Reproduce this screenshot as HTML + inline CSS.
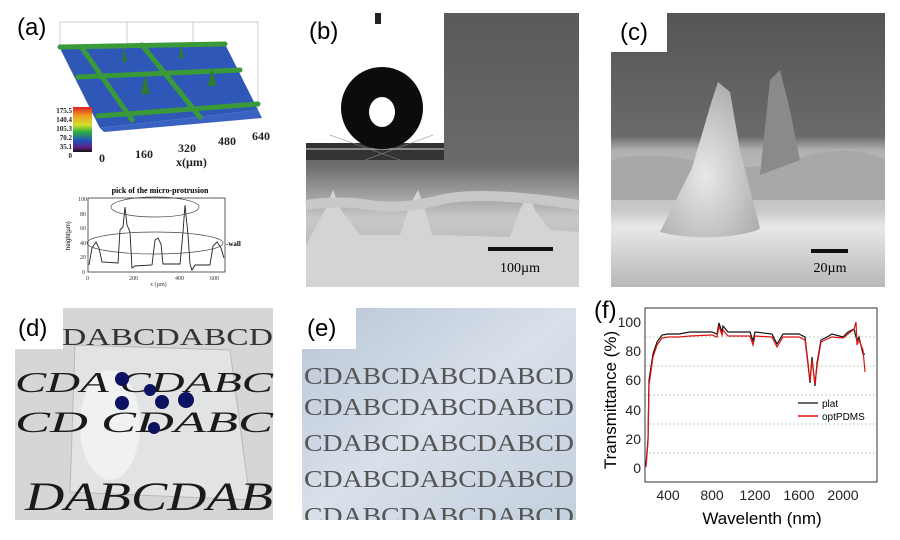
<!DOCTYPE html>
<html><head><meta charset="utf-8"><style>
body{margin:0;background:#fff}
svg{display:block}
text{font-family:"Liberation Sans",sans-serif}
.s{font-family:"Liberation Serif",serif}
</style></head><body>
<svg width="900" height="540" viewBox="0 0 900 540" xmlns="http://www.w3.org/2000/svg">
<defs>
<linearGradient id="cb" x1="0" y1="0" x2="0" y2="1">
<stop offset="0" stop-color="#e02020"/><stop offset="0.2" stop-color="#f0a020"/><stop offset="0.4" stop-color="#d0e030"/><stop offset="0.55" stop-color="#30b040"/><stop offset="0.75" stop-color="#2050c0"/><stop offset="0.9" stop-color="#602080"/><stop offset="1" stop-color="#101010"/></linearGradient>
<linearGradient id="bg" x1="0" y1="0" x2="0" y2="1"><stop offset="0" stop-color="#5a5a5a"/><stop offset="0.55" stop-color="#6a6a6a"/><stop offset="0.75" stop-color="#c8c8c8"/><stop offset="1" stop-color="#a8a8a8"/></linearGradient>
<linearGradient id="cg" x1="0" y1="0" x2="0" y2="1"><stop offset="0" stop-color="#555"/><stop offset="0.45" stop-color="#6a6a6a"/><stop offset="0.5" stop-color="#b0b0b0"/><stop offset="0.72" stop-color="#c8c8c8"/><stop offset="0.78" stop-color="#e8e8e8"/><stop offset="1" stop-color="#b8b8b8"/></linearGradient>
<radialGradient id="cone" cx="0.45" cy="0.6" r="0.6"><stop offset="0" stop-color="#e8e8e8"/><stop offset="1" stop-color="#b0b0b0"/></radialGradient>
<linearGradient id="eg" x1="0" y1="0" x2="1" y2="1"><stop offset="0" stop-color="#b8c6d6"/><stop offset="0.5" stop-color="#d8e0ea"/><stop offset="1" stop-color="#c4d0de"/></linearGradient>
</defs>

<!-- (a) -->
<text x="17" y="35" font-size="24">(a)</text>
<g stroke="#bbb" stroke-width="0.7" fill="none">
<polyline points="60,48 60,22 258,22 258,110"/><line x1="127" y1="22" x2="127" y2="46"/><line x1="193" y1="22" x2="193" y2="46"/>
<line x1="60" y1="48" x2="100" y2="128"/>
</g>
<polygon points="60,48 225,44 258,110 100,128" fill="#2f57b8"/>
<polygon points="100,128 258,110 262,118 104,132" fill="#3a62c0"/>
<g stroke="#3a9a3a" stroke-width="5" stroke-linecap="round">
<line x1="60" y1="47" x2="225" y2="44"/>
<line x1="78" y1="77" x2="240" y2="70"/>
<line x1="98" y1="116" x2="258" y2="104"/>
<line x1="82" y1="48" x2="132" y2="120"/>
<line x1="142" y1="45" x2="200" y2="117"/>
</g>
<g fill="#2e7a2e"><polygon points="124,48 122,62 127,62"/><polygon points="181,45 179,58 184,58"/><polygon points="145,75 141,94 150,94"/><polygon points="212,68 208,86 216,86"/></g>
<rect x="73" y="107" width="19" height="45" fill="url(#cb)"/>
<g class="s" font-size="7" font-weight="bold" text-anchor="end" fill="#222">
<text x="72" y="113" class="s">175.5</text><text x="72" y="122" class="s">140.4</text><text x="72" y="131" class="s">105.3</text><text x="72" y="140" class="s">70.2</text><text x="72" y="149" class="s">35.1</text><text x="72" y="158" class="s">0</text></g>
<g font-size="12" font-weight="bold" fill="#222">
<text x="99" y="162" class="s">0</text><text x="135" y="158" class="s">160</text><text x="178" y="152" class="s">320</text><text x="218" y="145" class="s">480</text><text x="252" y="140" class="s">640</text><text x="176" y="166" class="s">x(µm)</text></g>
<text x="160" y="193" font-size="8" font-weight="bold" text-anchor="middle" class="s">pick of the micro-protrusion</text>
<rect x="88" y="198" width="137" height="74" fill="none" stroke="#333" stroke-width="0.8"/>
<g font-size="6" fill="#333" class="s"><text x="78" y="201" class="s">100</text><text x="80" y="216" class="s">80</text><text x="80" y="230" class="s">60</text><text x="80" y="245" class="s">40</text><text x="80" y="259" class="s">20</text><text x="82" y="274" class="s">0</text>
<text x="86" y="280" class="s">0</text><text x="129" y="280" class="s">200</text><text x="175" y="280" class="s">400</text><text x="210" y="280" class="s">600</text><text x="150" y="286" class="s">x (µm)</text></g>
<text x="70" y="250" font-size="6" transform="rotate(-90 70 250)">height(µm)</text>
<polyline fill="none" stroke="#222" stroke-width="0.9" points="89,265 92,248 96,242 99,248 102,262 118,263 120,230 123,227 125,207 127,225 130,232 132,268 135,266 152,265 155,240 158,238 161,244 163,264 180,264 183,232 185,205 188,235 190,264 192,270 195,265 210,265 213,246 217,242 221,248 224,258"/>
<ellipse cx="155" cy="207" rx="44" ry="10" fill="none" stroke="#444" stroke-width="0.7"/>
<ellipse cx="155" cy="243" rx="68" ry="11" fill="none" stroke="#444" stroke-width="0.7"/>
<text x="226" y="246" font-size="7" font-weight="bold" class="s">-wall</text>

<!-- (b) -->
<rect x="306" y="13" width="273" height="274" fill="url(#bg)"/>
<rect x="306" y="13" width="138" height="130" fill="#fff"/>
<rect x="306" y="143" width="138" height="17" fill="#333"/>
<rect x="306" y="148" width="138" height="2" fill="#888"/>
<rect x="375" y="13" width="6" height="11" fill="#222"/>
<circle cx="382" cy="108" r="41" fill="#0c0c0c"/>
<ellipse cx="382" cy="112" rx="13" ry="15" fill="#fff"/>
<g stroke="#888" stroke-width="0.6"><line x1="330" y1="135" x2="400" y2="160"/><line x1="433" y1="135" x2="365" y2="160"/></g>
<path d="M306,245 L325,210 L333,190 L341,210 L360,235 L400,235 L410,205 L418,190 L425,210 L432,235 L510,237 L520,210 L528,194 L536,212 L550,230 L579,232 L579,287 L306,287Z" fill="#d4d4d4"/>
<path d="M306,205 Q340,200 370,205 T440,200 T579,205" stroke="#c8c8c8" stroke-width="10" fill="none"/>
<rect x="488" y="247" width="65" height="4" fill="#111"/>
<text x="520" y="272" font-size="14" text-anchor="middle" class="s">100µm</text>
<text x="309" y="39" font-size="24">(b)</text>

<!-- (c) -->
<rect x="611" y="13" width="274" height="274" fill="url(#cg)"/>
<rect x="611" y="13" width="56" height="39" fill="#fff"/>
<text x="620" y="40" font-size="24">(c)</text>
<path d="M611,160 Q650,150 700,162 T800,158 T885,160 L885,200 L611,200Z" fill="#a8a8a8"/>
<path d="M760,175 L770,80 L780,70 L790,110 L800,160Z" fill="#8a8a8a"/>
<path d="M660,232 Q690,240 730,236 Q758,232 760,228 L740,150 L730,92 L718,82 L712,100 L692,168 Z" fill="url(#cone)"/>
<rect x="811" y="249" width="37" height="4" fill="#111"/>
<text x="830" y="272" font-size="14" text-anchor="middle" class="s">20µm</text>

<!-- (d) -->
<rect x="15" y="308" width="258" height="212" fill="#d6d6d4"/>
<polygon points="75,345 230,350 250,500 70,492" fill="#e2e4e4" stroke="#b8b8b8" stroke-width="1"/>
<ellipse cx="110" cy="425" rx="30" ry="55" fill="#f4f4f4" opacity="0.8"/>
<g class="s" fill="#1a1a1a">
<text x="62" y="345" font-size="24" class="s" textLength="211" lengthAdjust="spacingAndGlyphs" fill="#333">DABCDABCD</text>
<text x="15" y="392" font-size="28" font-style="italic" class="s" textLength="258" lengthAdjust="spacingAndGlyphs">CDA   CDABC</text>
<text x="15" y="432" font-size="30" font-style="italic" class="s" textLength="258" lengthAdjust="spacingAndGlyphs">CD    CDABC</text>
<text x="25" y="510" font-size="40" font-style="italic" class="s" textLength="248" lengthAdjust="spacingAndGlyphs">DABCDAB</text>
</g>
<g fill="#0c1260"><circle cx="122" cy="379" r="7"/><circle cx="150" cy="390" r="6"/><circle cx="122" cy="403" r="7"/><circle cx="162" cy="402" r="7"/><circle cx="186" cy="400" r="8"/><circle cx="154" cy="428" r="6"/></g>
<rect x="15" y="308" width="48" height="41" fill="#fff"/>
<text x="18" y="336" font-size="24">(d)</text>

<!-- (e) -->
<rect x="302" y="308" width="274" height="212" fill="url(#eg)"/>
<g class="s" font-size="24" fill="#555">
<text x="304" y="384" class="s" textLength="270" lengthAdjust="spacingAndGlyphs">CDABCDABCDABCD</text>
<text x="304" y="415" class="s" textLength="270" lengthAdjust="spacingAndGlyphs">CDABCDABCDABCD</text>
<text x="304" y="451" class="s" textLength="270" lengthAdjust="spacingAndGlyphs">CDABCDABCDABCD</text>
<text x="304" y="487" class="s" textLength="270" lengthAdjust="spacingAndGlyphs">CDABCDABCDABCD</text>
<text x="304" y="524" class="s" textLength="270" lengthAdjust="spacingAndGlyphs">CDABCDABCDABCD</text>
</g>
<rect x="302" y="520" width="274" height="20" fill="#fff"/>
<rect x="302" y="308" width="54" height="41" fill="#fff"/>
<text x="307" y="336" font-size="24">(e)</text>

<!-- (f) -->
<text x="594" y="318" font-size="24">(f)</text>
<g stroke="#9c9" stroke-width="0.8" stroke-dasharray="2,2"><line x1="645" y1="453" x2="877" y2="453"/><line x1="645" y1="424" x2="877" y2="424"/><line x1="645" y1="395" x2="877" y2="395"/><line x1="645" y1="366" x2="877" y2="366"/><line x1="645" y1="337" x2="877" y2="337"/></g>
<rect x="645" y="308" width="232" height="174" fill="none" stroke="#333" stroke-width="1"/>
<g font-size="14" text-anchor="end" fill="#222"><text x="641" y="473">0</text><text x="641" y="444">20</text><text x="641" y="415">40</text><text x="641" y="385">60</text><text x="641" y="356">80</text><text x="641" y="327">100</text></g>
<g font-size="14" text-anchor="middle" fill="#222"><text x="668" y="500">400</text><text x="712" y="500">800</text><text x="755" y="500">1200</text><text x="799" y="500">1600</text><text x="843" y="500">2000</text></g>
<text x="762" y="524" font-size="17" text-anchor="middle">Wavelenth (nm)</text>
<text x="616" y="400" font-size="17" text-anchor="middle" transform="rotate(-90 616 400)">Transmittance (%)</text>
<polyline fill="none" stroke="#111" stroke-width="1.2" points="646,465 648,439 649,380 653,354 657,342 662,335 668,334 679,334 690,332 712,332 717,334 719,323 722,332 723,326 728,332 750,332 753,341 755,332 772,334 777,344 783,334 799,334 805,337 808,363 810,383 812,357 815,386 817,363 821,340 827,337 832,334 843,337 848,332 854,329 857,341 859,337 863,354 865,354"/>
<polyline fill="none" stroke="#e01010" stroke-width="1.2" points="646,467 648,442 649,385 653,357 657,345 662,338 668,337 679,337 690,336 712,335 717,337 719,326 722,335 723,330 728,336 750,336 753,345 755,336 772,337 777,347 783,337 799,337 805,340 808,365 810,381 812,360 815,384 817,366 821,342 827,339 832,337 843,338 848,334 854,329 856,322 857,345 859,340 863,350 865,372"/>
<line x1="798" y1="403" x2="818" y2="403" stroke="#111" stroke-width="1.2"/><text x="822" y="407" font-size="10">plat</text>
<line x1="798" y1="416" x2="818" y2="416" stroke="#e01010" stroke-width="1.5"/><text x="822" y="420" font-size="10">optPDMS</text>
</svg>
</body></html>
